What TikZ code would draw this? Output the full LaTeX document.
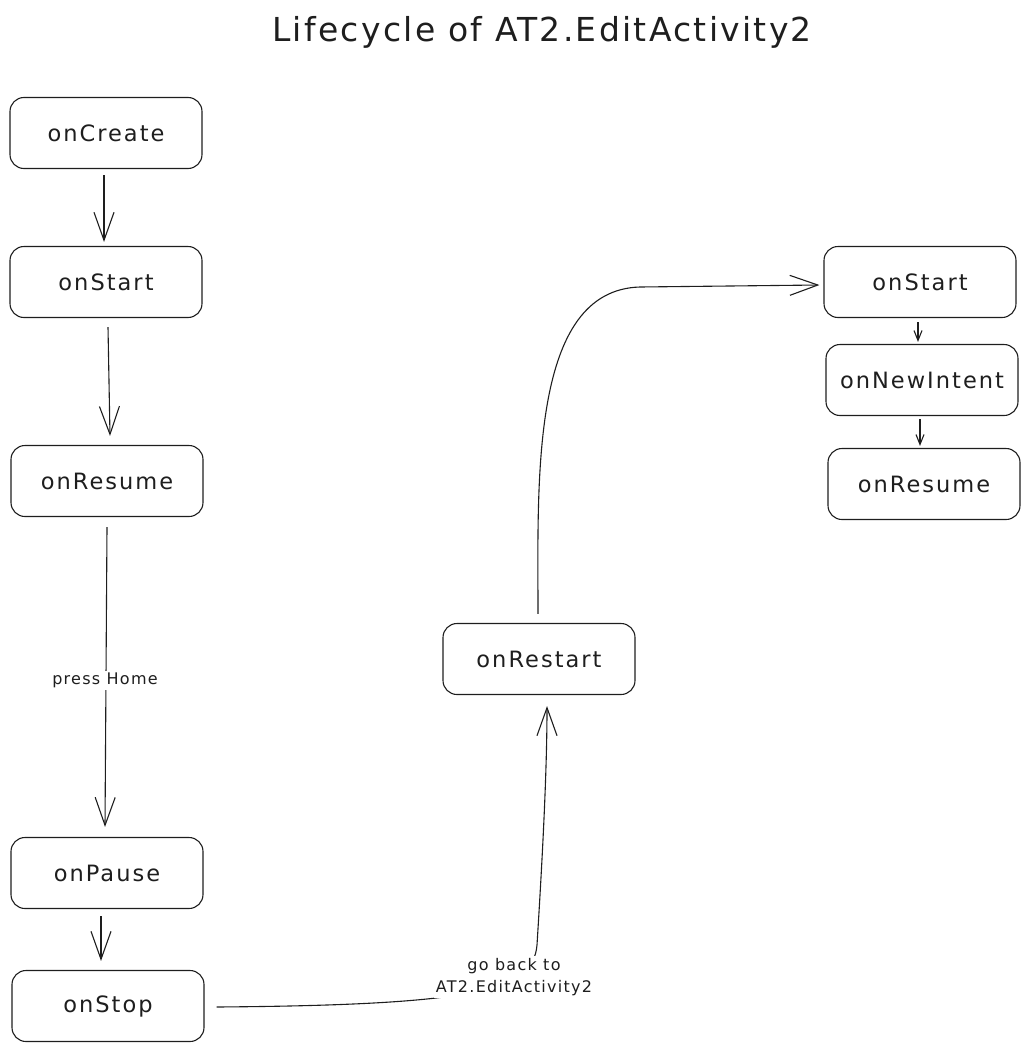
\documentclass[tikz,border=0pt]{standalone}
\usepackage{fontspec}
\setmainfont{DejaVu Sans}
\newfontfamily\boxfont{DejaVu Sans}[LetterSpace=9]
\newfontfamily\titlefont{DejaVu Sans}[LetterSpace=7]
\newfontfamily\lblfont{DejaVu Sans}[LetterSpace=8]
\usetikzlibrary{arrows.meta,calc}
\definecolor{ink}{HTML}{1E1E1E}
\tikzset{
  box/.style={draw=ink, line width=1.1pt, rounded corners=14pt, minimum width=192pt,
    minimum height=71pt, inner sep=0pt, text=ink, font=\boxfont\fontsize{22.5}{26}\selectfont},
  arr/.style={draw=ink, line width=1.1pt, -{Straight Barb[length=28pt,width=20pt]}},
  sarr/.style={draw=ink, line width=1.1pt, -{Straight Barb[length=10pt,width=8pt]}},
  lbl/.style={fill=white, text=ink, inner sep=2pt, align=center, font=\lblfont\fontsize{16}{22}\selectfont},
}
\begin{document}
\begin{tikzpicture}[x=1pt,y=-1pt]
\useasboundingbox (0,0) rectangle (1031,1052);
\node[text=ink, font=\titlefont\fontsize{33}{38}\selectfont] (title) at (542,32) {Lifecycle of AT2.EditActivity2};

\node[box] (create) at (106,133) {onCreate};
\node[box] (startL) at (106,282) {onStart};
\node[box] (resumeL) at (107,481) {onResume};
\node[box] (pause) at (107,873) {onPause};
\node[box] (stop) at (108,1006) {onStop};
\node[box] (restart) at (539,659) {onRestart};
\node[box] (startR) at (920,282) {onStart};
\node[box] (intent) at (922,380) {onNewIntent};
\node[box] (resumeR) at (924,484) {onResume};

\draw[arr] ([xshift=-2pt,yshift=-6pt]create.south) -- ([xshift=-2pt,yshift=4pt]startL.north);
\draw[arr] ([xshift=2pt,yshift=-9pt]startL.south) -- ([xshift=3pt,yshift=9pt]resumeL.north);
\draw[arr] ([yshift=-10pt]resumeL.south) -- ([xshift=-2pt,yshift=10pt]pause.north);
\node[lbl] (home) at (105,680) {press Home};
\draw[arr] ([xshift=-6pt,yshift=-7pt]pause.south) -- ([xshift=-7pt,yshift=9pt]stop.north);

\draw[arr] ([xshift=12pt,yshift=-1pt]stop.east) .. controls (480,1005) and (533,990) .. (537,945)
  .. controls (541,880) and (547,780) .. ([xshift=8pt,yshift=-11pt]restart.south);
\node[lbl] (goback) at (514,977) {go back to\\AT2.EditActivity2};

\draw[arr] ([xshift=-1pt,yshift=9pt]restart.north) .. controls (538,480) and (530,290) .. (640,287)
  -- ([xshift=-4pt,yshift=-3pt]startR.west);

\draw[sarr] ([xshift=-2pt,yshift=-4pt]startR.south) -- ([xshift=-4pt,yshift=2pt]intent.north);
\draw[sarr] ([xshift=-2pt,yshift=-3pt]intent.south) -- ([xshift=-4pt,yshift=2pt]resumeR.north);
\end{tikzpicture}
\end{document}
